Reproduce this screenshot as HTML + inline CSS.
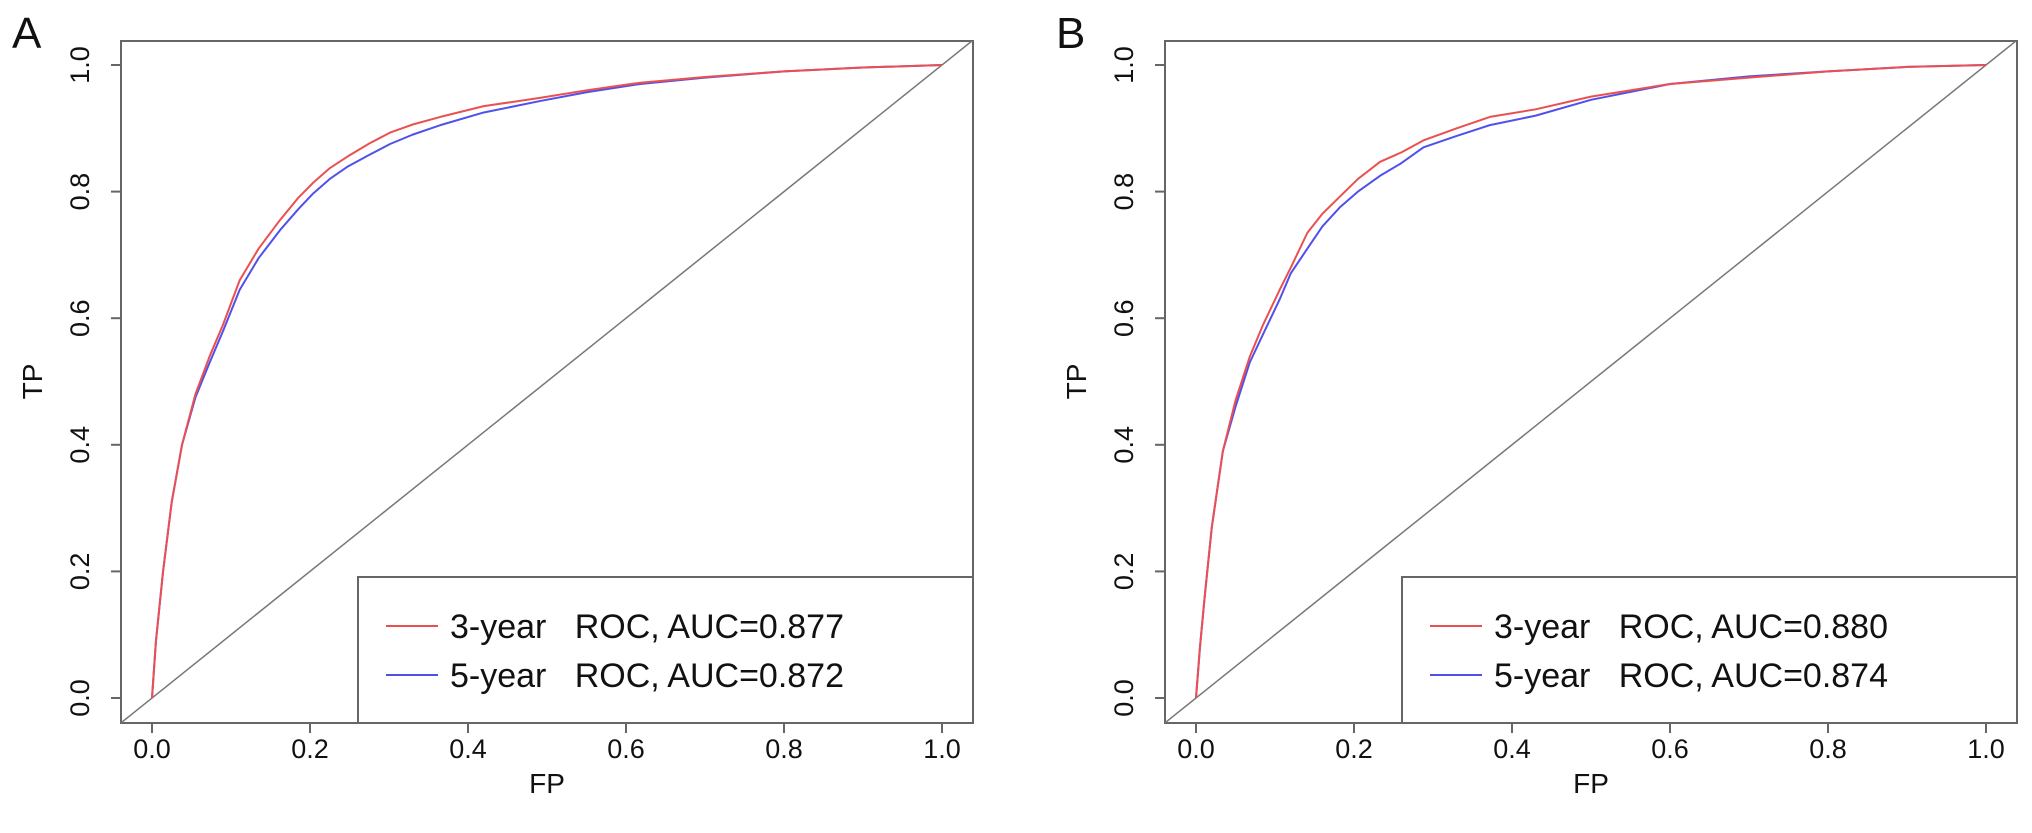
<!DOCTYPE html>
<html><head><meta charset="utf-8"><style>
body{margin:0;background:#fff;width:2032px;height:828px;overflow:hidden}
svg text{font-family:"Liberation Sans",sans-serif;fill:#111}
.pre{white-space:pre}
</style></head><body>
<svg id="chart" width="2032" height="828" xmlns="http://www.w3.org/2000/svg"></svg>
<script>
const fpA = [0,0.005,0.014,0.025,0.038,0.055,0.073,0.09,0.111,0.135,0.162,0.185,0.204,0.225,0.247,0.275,0.301,0.33,0.365,0.42,0.491,0.55,0.618,0.7,0.8,0.9,1];
const tpA3 = [0,0.09,0.2,0.31,0.4,0.48,0.54,0.59,0.66,0.71,0.755,0.79,0.814,0.837,0.855,0.876,0.893,0.906,0.918,0.935,0.948,0.96,0.972,0.981,0.99,0.996,1];
const tpA5 = [0,0.09,0.2,0.31,0.4,0.475,0.53,0.58,0.645,0.695,0.739,0.772,0.797,0.82,0.839,0.858,0.875,0.89,0.905,0.925,0.943,0.957,0.97,0.98,0.99,0.996,1];
const fpB = [0,0.005,0.011,0.02,0.034,0.05,0.068,0.085,0.106,0.12,0.141,0.16,0.182,0.205,0.233,0.26,0.288,0.33,0.372,0.43,0.5,0.6,0.7,0.8,0.9,1];
const tpB3 = [0,0.08,0.16,0.27,0.39,0.47,0.539,0.59,0.645,0.68,0.735,0.765,0.792,0.82,0.847,0.862,0.881,0.9,0.918,0.93,0.95,0.97,0.98,0.99,0.997,1];
const tpB5 = [0,0.08,0.16,0.27,0.39,0.46,0.53,0.575,0.63,0.671,0.71,0.745,0.775,0.8,0.825,0.845,0.87,0.888,0.905,0.92,0.945,0.97,0.982,0.99,0.997,1];
const ticks = [0,0.2,0.4,0.6,0.8,1.0];
const tickLabels = ["0.0","0.2","0.4","0.6","0.8","1.0"];
const panelLetters = ["A","B"];
const legendA = ["3-year   ROC, AUC=0.877","5-year   ROC, AUC=0.872"];
const legendB = ["3-year   ROC, AUC=0.880","5-year   ROC, AUC=0.874"];
const NS="http://www.w3.org/2000/svg";
const svg=document.getElementById('chart');
function mk(tag,attrs,parent){const e=document.createElementNS(NS,tag);for(const k in attrs)e.setAttribute(k,attrs[k]);(parent||svg).appendChild(e);return e;}
function panel(i,fp,s3,s5,leg){
  const off=i*1044;
  const g=mk('g',{});
  
  
  const X=v=>off+152+v*790, Y=v=>698-v*633;
  const L=off+121,R=off+973,T=41,B=723;
  const cp=mk('clipPath',{id:'c'+i},g);mk('rect',{x:L,y:T,width:R-L,height:B-T},cp);
  const box=mk('rect',{x:L,y:T,width:R-L,height:B-T,fill:'none',stroke:'#666','stroke-width':2},g);
  
  const diag=mk('line',{x1:X(-0.1),y1:Y(-0.1),x2:X(1.1),y2:Y(1.1),stroke:'#777','stroke-width':1.5,'clip-path':'url(#c'+i+')'},g);
  
  ticks.forEach((t,k)=>{
    mk('line',{x1:X(t),y1:B,x2:X(t),y2:B+10,stroke:'#666','stroke-width':2},g);
    const tx=mk('text',{x:X(t),y:758,'font-size':27,'text-anchor':'middle'},g);tx.textContent=tickLabels[k];
    
    mk('line',{x1:L,y1:Y(t),x2:L-10,y2:Y(t),stroke:'#666','stroke-width':2},g);
    const ty=mk('text',{x:0,y:0,'font-size':27,'text-anchor':'middle',transform:`translate(${off+89},${Y(t)}) rotate(-90)`},g);ty.textContent=tickLabels[k];
    
  });
  const xt=mk('text',{x:X(0.5),y:793,'font-size':28,'text-anchor':'middle'},g);xt.textContent='FP';
  
  const yt=mk('text',{x:0,y:0,'font-size':28,'text-anchor':'middle',transform:`translate(${off+42},${Y(0.5)}) rotate(-90)`},g);yt.textContent='TP';
  
  const pl=mk('text',{x:off+12,y:48,'font-size':44},g);pl.textContent=panelLetters[i];
  
  [[s5,'#5050ea','five-year-roc-curve'],[s3,'#ea5050','three-year-roc-curve']].forEach(([s,c,n])=>{
    const p=mk('polyline',{points:fp.map((v,k)=>X(v)+','+Y(s[k])).join(' '),fill:'none',stroke:c,'stroke-width':2,'stroke-linejoin':'round'},g);
    
  });
  const lg=mk('g',{},g);
  
  mk('rect',{x:off+358,y:577,width:R-(off+358),height:B-577,fill:'#fff',stroke:'#666','stroke-width':2},lg);
  [[leg[0],'#ea5050',626],[leg[1],'#5050ea',675]].forEach(([t,c,y])=>{
    mk('line',{x1:off+386,y1:y,x2:off+438,y2:y,stroke:c,'stroke-width':2},lg);
    const tt=mk('text',{x:off+450,y:y+12,'font-size':34,'class':'pre'},lg);tt.textContent=t;
    
  });
}
panel(0,fpA,tpA3,tpA5,legendA);
panel(1,fpB,tpB3,tpB5,legendB);
</script>
</body></html>
